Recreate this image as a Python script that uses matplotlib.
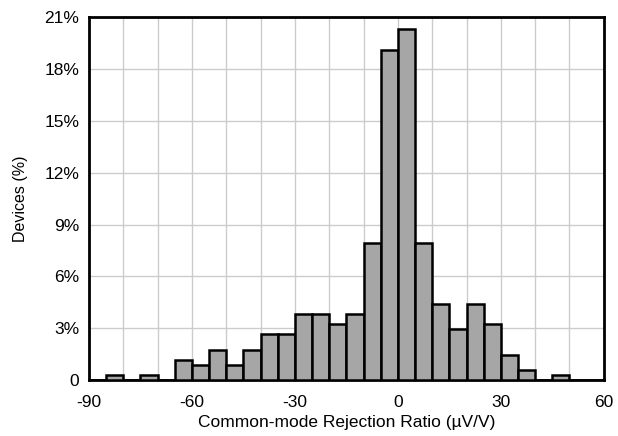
import numpy as np
import matplotlib
matplotlib.use('Agg')
import matplotlib.pyplot as plt
from matplotlib.ticker import FuncFormatter

# bin edges (µV/V), 5 µV/V wide
bin_left = list(range(-90, 60, 5))
# percentage of devices in each bin
devices_pct = [0.00, 0.29, 0.00, 0.29, 0.00, 1.18, 0.88, 1.76, 0.88, 1.76,
               2.65, 2.65, 3.82, 3.82, 3.24, 3.82, 7.94, 19.12, 20.29, 7.94,
               4.41, 2.94, 4.41, 3.24, 1.47, 0.59, 0.00, 0.29, 0.00, 0.00]
x_ticks = [-90, -60, -30, 0, 30, 60]
y_ticks = [0, 3, 6, 9, 12, 15, 18, 21]


def main():
    plt.rcParams['font.family'] = ['Liberation Sans', 'DejaVu Sans']
    plt.rcParams['axes.unicode_minus'] = False
    fig = plt.figure(figsize=(6.18, 4.36), dpi=100)
    ax = fig.add_axes([0.144, 0.128, 0.833, 0.833])

    ax.bar(bin_left, devices_pct, width=5, align='edge',
           color='#a6a6a6', edgecolor='black', linewidth=1.8, zorder=3)

    ax.set_xlim(-90, 60)
    ax.set_ylim(0, 21)
    ax.set_xticks(x_ticks)
    ax.set_yticks(y_ticks)
    ax.set_xticks(range(-80, 60, 10), minor=True)
    ax.yaxis.set_major_formatter(FuncFormatter(lambda v, p: '0' if v == 0 else '%d%%' % v))

    ax.grid(True, which='both', color='#cccccc', linewidth=1, zorder=0)
    ax.tick_params(which='both', length=0, labelsize=12.5)
    ax.tick_params(axis='x', pad=11)
    ax.tick_params(axis='y', pad=7)
    for s in ax.spines.values():
        s.set_linewidth(2)

    ax.set_xlabel('Common-mode Rejection Ratio (µV/V)', fontsize=12.5, labelpad=3)
    ax.set_ylabel('Devices (%)', fontsize=11.5, labelpad=12)

    fig.savefig('out.png', dpi=100)


if __name__ == '__main__':
    main()
